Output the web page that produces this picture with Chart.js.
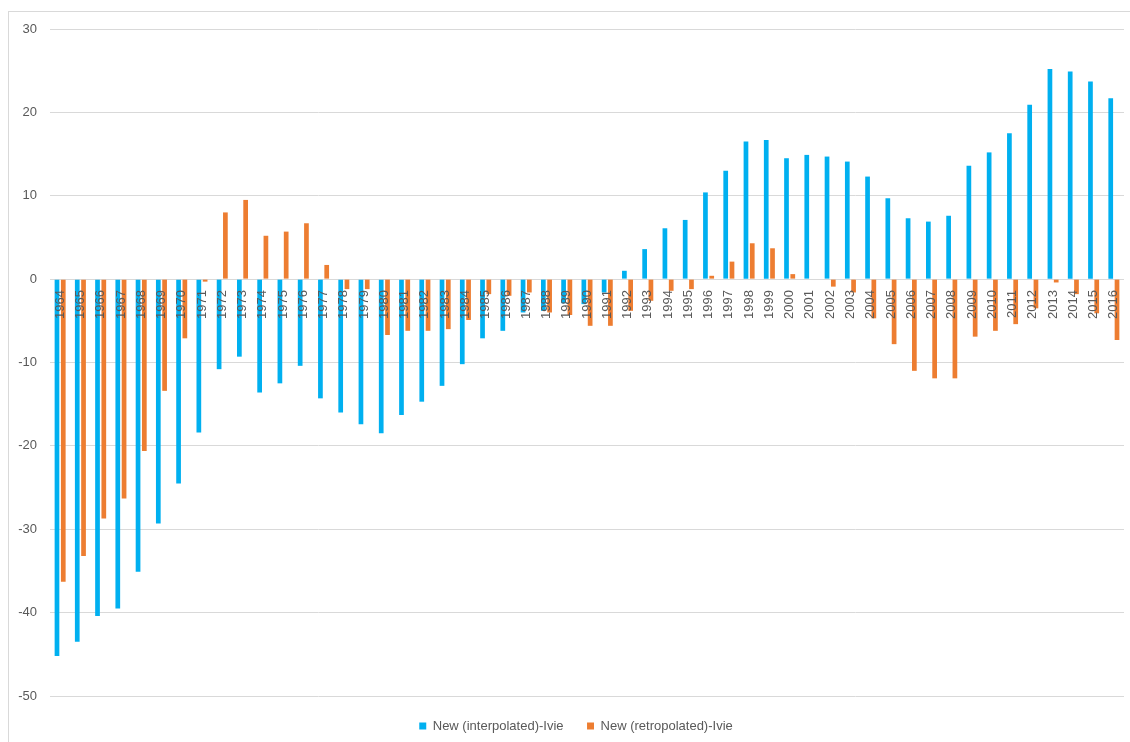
<!DOCTYPE html>
<html>
<head>
<meta charset="utf-8">
<script src="https://cdn.jsdelivr.net/npm/chart.js@4/dist/chart.umd.min.js"></script>
<style>
  html, body { margin: 0; padding: 0; background: #ffffff; overflow: hidden; }
  #wrap { position: relative; width: 1130px; height: 742px; }
  #frame { position: absolute; left: 8px; top: 11px; width: 1140px; height: 760px; border: 1px solid #d9d9d9; box-sizing: border-box; }
  #c { position: absolute; left: 0; top: 0; }
</style>
</head>
<body>
<div id="wrap">
  <div id="frame"></div>
  <canvas id="c" width="1130" height="742"></canvas>
</div>
<script>
const years = ['1964','1965','1966','1967','1968','1969','1970','1971','1972','1973','1974','1975','1976','1977','1978','1979','1980','1981','1982','1983','1984','1985','1986','1987','1988','1989','1990','1991','1992','1993','1994','1995','1996','1997','1998','1999','2000','2001','2002','2003','2004','2005','2006','2007','2008','2009','2010','2011','2012','2013','2014','2015','2016'];

const interpolated = [-45.2,-43.5,-40.4,-39.5,-35.1,-29.3,-24.5,-18.4,-10.8,-9.3,-13.6,-12.5,-10.4,-14.3,-16.0,-17.4,-18.5,-16.3,-14.7,-12.8,-10.2,-7.1,-6.2,-4.0,-3.8,-2.9,-3.0,-1.6,1.0,3.6,6.1,7.1,10.4,13.0,16.5,16.7,14.5,14.9,14.7,14.1,12.3,9.7,7.3,6.9,7.6,13.6,15.2,17.5,20.9,25.2,24.9,23.7,21.7];

const retropolated = [-36.3,-33.2,-28.7,-26.3,-20.6,-13.4,-7.1,-0.3,8.0,9.5,5.2,5.7,6.7,1.7,-1.2,-1.2,-6.7,-6.2,-6.2,-6.0,-4.9,-1.8,-2.0,-1.6,-4.0,-4.3,-5.6,-5.6,-3.8,-2.6,-1.4,-1.2,0.4,2.1,4.3,3.7,0.6,0,-0.9,-1.6,-4.7,-7.8,-11.0,-11.9,-11.9,-6.9,-6.2,-5.4,-3.5,-0.4,-1.8,-4.1,-7.3];

const seriesNames = ['New (interpolated)-Ivie', 'New (retropolated)-Ivie'];
const yTicks = { min: -50, max: 30, step: 10 };

const textColor = '#595959';
const gridColor = '#d9d9d9';
const fontFamily = '"Liberation Sans", Arial, sans-serif';

const legendShift = {
  id: 'legendShift',
  afterLayout(chart) {
    if (chart.legend) { chart.legend.left += 14; chart.legend.right += 14; }
  }
};

new Chart(document.getElementById('c'), {
  type: 'bar',
  data: {
    labels: years,
    datasets: [
      { label: seriesNames[0], data: interpolated, backgroundColor: '#00b0f0', borderWidth: 0 },
      { label: seriesNames[1], data: retropolated, backgroundColor: '#ed7d31', borderWidth: 0 }
    ]
  },
  options: {
    responsive: false,
    animation: false,
    devicePixelRatio: 1,
    categoryPercentage: 0.62,
    barPercentage: 0.75,
    layout: { padding: { top: 29, right: 6, bottom: 0, left: 0 } },
    plugins: {
      tooltip: { enabled: false },
      legend: {
        position: 'bottom',
        maxHeight: 46,
        labels: {
          boxWidth: 7,
          boxHeight: 7,
          padding: 23.5,
          color: textColor,
          font: { family: fontFamily, size: 13 }
        }
      }
    },
    scales: {
      x: {
        position: { y: 0 },
        grid: { display: false },
        border: { display: false },
        ticks: {
          z: 1,
          autoSkip: false,
          minRotation: 90,
          maxRotation: 90,
          padding: 3,
          color: textColor,
          font: { family: fontFamily, size: 13 }
        },
        afterFit(s) { s.paddingLeft = 0; s.paddingRight = 0; s.paddingTop = 0; s.paddingBottom = 0; }
      },
      y: {
        min: yTicks.min,
        max: yTicks.max,
        grid: { color: gridColor, lineWidth: 1, drawTicks: false },
        border: { display: false },
        ticks: {
          stepSize: yTicks.step,
          padding: 13,
          color: textColor,
          font: { family: fontFamily, size: 13 }
        },
        afterFit(s) { s.width = 50; }
      }
    }
  },
  plugins: [legendShift]
});
</script>
</body>
</html>
